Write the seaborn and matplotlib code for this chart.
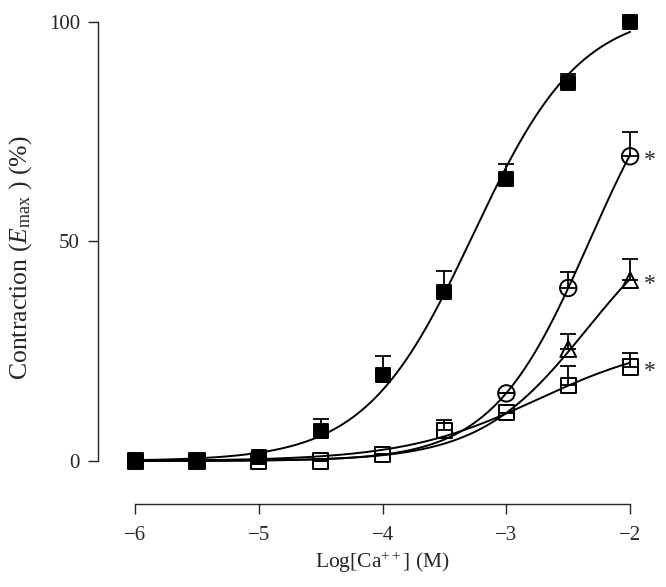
import numpy as np
import pandas as pd
import matplotlib
matplotlib.use("Agg")
import matplotlib.pyplot as plt
import seaborn as sns

# log concentrations of Ca++ (M)
log_ca = [-6, -5.5, -5, -4.5, -4, -3.5, -3, -2.5, -2]

# mean contraction (% of Emax) and upper SEM for each group
# (nan = point hidden behind other markers in the figure)
nan = np.nan
control = [0, 0, 1, 6.9, 19.6, 38.6, 64.2, 86.1, 100]
control_err = [0, 0, 0, 2.7, 4.4, 4.7, 3.4, 2.1, 0]
circle = [nan, nan, nan, nan, nan, nan, 15.4, 39.4, 69.4]
circle_err = [0, 0, 0, 0, 0, 0, 0, 3.6, 5.5]
triangle = [nan, nan, nan, nan, nan, nan, nan, 25.5, 41.2]
triangle_err = [0, 0, 0, 0, 0, 0, 0, 3.4, 4.7]
square = [0, 0, 0, 0, 1.5, 7, 11, 17.2, 21.4]
square_err = [0, 0, 0, 0, 0, 2.4, 0, 4.4, 3.1]

# fitted Hill curves: (top, logEC50, hill slope)
fits = {
    "control": (103, -3.27, 1.0),
    "circle": (100, -2.33, 1.1),
    "triangle": (60, -2.35, 1.0),
    "square": (28, -2.75, 0.8),
}

sns.set_style("ticks")
plt.rcParams["font.family"] = ["Liberation Serif", "DejaVu Serif"]
plt.rcParams["mathtext.fontset"] = "custom"
plt.rcParams["mathtext.rm"] = "Liberation Serif"
plt.rcParams["mathtext.it"] = "Liberation Serif:italic"

fig = plt.figure(figsize=(6.66, 5.87), dpi=100)
ax = fig.add_axes([98 / 666, 83 / 587, 544.5 / 666, 490.8 / 587])

# fitted curves
x_fit = np.linspace(-6, -2, 200)
for name, (top, ec50, hill) in fits.items():
    y_fit = top / (1 + 10 ** (hill * (ec50 - x_fit)))
    sns.lineplot(x=x_fit, y=y_fit, ax=ax, color="black", lw=1.4, zorder=3)

series = [
    (square, square_err, "s", "none", 120),
    (triangle, triangle_err, "^", "none", 130),
    (circle, circle_err, "o", "none", 140),
    (control, control_err, "s", "black", 110),
]
for vals, err, mk, fc, size in series:
    df = pd.DataFrame({"x": log_ca, "y": vals}).dropna()
    ax.errorbar(log_ca, vals, yerr=[np.zeros(len(err)), err], fmt="none",
                ecolor="black", elinewidth=1.3, capsize=6, capthick=1.3,
                zorder=2, clip_on=False)
    sns.scatterplot(data=df, x="x", y="y", ax=ax, marker=mk, s=size,
                    facecolor=fc, edgecolor="black", linewidth=1.4,
                    zorder=4, clip_on=False)

# significance marks at the highest concentration
for vals in [circle, triangle, square]:
    ax.annotate("*", (log_ca[-1], vals[-1]), xytext=(10, -3),
                textcoords="offset points", ha="left", va="center",
                fontsize=17)

ax.set_xlim(-6.3, -1.9)
ax.set_ylim(-9.8, 102)
ax.set_xticks([-6, -5, -4, -3, -2])
ax.set_xticklabels(["\u22126", "\u22125", "\u22124", "\u22123", "\u22122"])
ax.set_yticks([0, 50, 100])
ax.tick_params(length=7, width=1, labelsize=15, direction="out")
ax.tick_params(axis="x", pad=8.5)
ax.tick_params(axis="y", pad=6)
for s in ["left", "bottom"]:
    ax.spines[s].set_linewidth(1)
sns.despine(ax=ax, trim=True)

ax.set_xlabel("Log[Ca$^{++}$] (M)", fontsize=15.5)
ax.set_ylabel("Contraction ($E_{\\rm max}$ ) (%)", fontsize=18.5)
ax.xaxis.set_label_coords(0.523, -0.094)
ax.yaxis.set_label_coords(-0.117, 0.503)

fig.savefig("out.png", dpi=100)
plt.close()
